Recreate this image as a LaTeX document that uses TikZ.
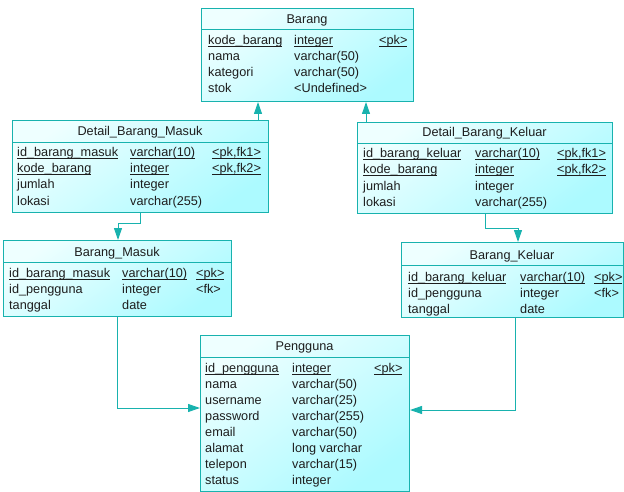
\documentclass[tikz,border=0pt]{standalone}
\usepackage{fontspec}
\setmainfont{Liberation Sans}
\usetikzlibrary{arrows.meta}
\definecolor{tealline}{RGB}{24,178,174}
\definecolor{celltop}{RGB}{238,255,255}
\definecolor{cellbot}{RGB}{172,250,255}
\definecolor{txtgray}{RGB}{30,30,30}
% key fields: rule just under the baseline
\newcommand{\keyul}[1]{{\setbox0\hbox{#1}\rlap{\rule[-2.2pt]{\wd0}{0.7pt}}\box0}}
\tikzset{
  tbl/.style={draw=tealline, line width=1pt, top color=celltop, bottom color=cellbot,
    shading angle=35, anchor=north west, inner sep=0pt},
  hdr/.style={anchor=base, inner sep=0pt, text=txtgray},
  fld/.style={anchor=base west, inner sep=0pt, text=txtgray},
  sep/.style={draw=tealline, line width=1pt},
  fk/.style={draw=tealline, line width=1pt, -{Triangle[length=12pt,width=8pt]}}
}
\begin{document}
\begin{tikzpicture}[x=1pt, y=-1pt, font=\fontsize{12.7pt}{15pt}\selectfont]
  \useasboundingbox (0,0) rectangle (624,492);

  % Barang
  \node[tbl, minimum width=212pt, minimum height=93pt] (barang) at (201,8) {};
  \draw[sep] (barang.west |- 0,30) -- (barang.east |- 0,30);
  \node[hdr] (barang-t) at (307,24) {Barang};
  \foreach \n/\t/\k [count=\i from 0] in {%
      {\keyul{kode\_barang}}/{\keyul{integer}}/{\keyul{<pk>}},
      nama/varchar(50)/{},
      kategori/varchar(50)/{},
      stok/{<Undefined>}/{}}{
    \node[fld] (barang-n\i) at (208,45+16*\i) {\n};
    \node[fld] (barang-y\i) at (294,45+16*\i) {\t};
    \node[fld] (barang-k\i) at (379,45+16*\i) {\k};
  }

  % Detail_Barang_Masuk
  \node[tbl, minimum width=256pt, minimum height=92pt] (dbm) at (12,120) {};
  \draw[sep] (dbm.west |- 0,143) -- (dbm.east |- 0,143);
  \node[hdr] (dbm-t) at (140,136) {Detail\_Barang\_Masuk};
  \foreach \n/\t/\k [count=\i from 0] in {%
      {\keyul{id\_barang\_masuk}}/{\keyul{varchar(10)}}/{\keyul{<pk,fk1>}},
      {\keyul{kode\_barang}}/{\keyul{integer}}/{\keyul{<pk,fk2>}},
      jumlah/integer/{},
      lokasi/varchar(255)/{}}{
    \node[fld] (dbm-n\i) at (17,157+16*\i) {\n};
    \node[fld] (dbm-y\i) at (130,157+16*\i) {\t};
    \node[fld] (dbm-k\i) at (212,157+16*\i) {\k};
  }

  % Detail_Barang_Keluar
  \node[tbl, minimum width=255pt, minimum height=91pt] (dbk) at (357,122) {};
  \draw[sep] (dbk.west |- 0,144) -- (dbk.east |- 0,144);
  \node[hdr] (dbk-t) at (484.5,137) {Detail\_Barang\_Keluar};
  \foreach \n/\t/\k [count=\i from 0] in {%
      {\keyul{id\_barang\_keluar}}/{\keyul{varchar(10)}}/{\keyul{<pk,fk1>}},
      {\keyul{kode\_barang}}/{\keyul{integer}}/{\keyul{<pk,fk2>}},
      jumlah/integer/{},
      lokasi/varchar(255)/{}}{
    \node[fld] (dbk-n\i) at (363,158+16*\i) {\n};
    \node[fld] (dbk-y\i) at (475,158+16*\i) {\t};
    \node[fld] (dbk-k\i) at (557,158+16*\i) {\k};
  }

  % Barang_Masuk
  \node[tbl, minimum width=228pt, minimum height=76pt] (bm) at (3,240) {};
  \draw[sep] (bm.west |- 0,262) -- (bm.east |- 0,262);
  \node[hdr] (bm-t) at (117,256) {Barang\_Masuk};
  \foreach \n/\t/\k [count=\i from 0] in {%
      {\keyul{id\_barang\_masuk}}/{\keyul{varchar(10)}}/{\keyul{<pk>}},
      id\_pengguna/integer/{<fk>},
      tanggal/date/{}}{
    \node[fld] (bm-n\i) at (9,277+16*\i) {\n};
    \node[fld] (bm-y\i) at (122,277+16*\i) {\t};
    \node[fld] (bm-k\i) at (196,277+16*\i) {\k};
  }

  % Barang_Keluar
  \node[tbl, minimum width=222pt, minimum height=75pt] (bk) at (401,242) {};
  \draw[sep] (bk.west |- 0,265) -- (bk.east |- 0,265);
  \node[hdr] (bk-t) at (512,259) {Barang\_Keluar};
  \foreach \n/\t/\k [count=\i from 0] in {%
      {\keyul{id\_barang\_keluar}}/{\keyul{varchar(10)}}/{\keyul{<pk>}},
      id\_pengguna/integer/{<fk>},
      tanggal/date/{}}{
    \node[fld] (bk-n\i) at (408,281+16*\i) {\n};
    \node[fld] (bk-y\i) at (520,281+16*\i) {\t};
    \node[fld] (bk-k\i) at (594,281+16*\i) {\k};
  }

  % Pengguna
  \node[tbl, minimum width=209pt, minimum height=156pt] (pengguna) at (200,335) {};
  \draw[sep] (pengguna.west |- 0,357) -- (pengguna.east |- 0,357);
  \node[hdr] (pengguna-t) at (304.5,350) {Pengguna};
  \foreach \n/\t/\k [count=\i from 0] in {%
      {\keyul{id\_pengguna}}/{\keyul{integer}}/{\keyul{<pk>}},
      nama/varchar(50)/{},
      username/varchar(25)/{},
      password/varchar(255)/{},
      email/varchar(50)/{},
      alamat/long varchar/{},
      telepon/varchar(15)/{},
      status/integer/{}}{
    \node[fld] (pengguna-n\i) at (205,372+16*\i) {\n};
    \node[fld] (pengguna-y\i) at (292,372+16*\i) {\t};
    \node[fld] (pengguna-k\i) at (374,372+16*\i) {\k};
  }

  % references
  \draw[fk] (dbm.north -| 258,0) -- (barang.south -| 258,0);
  \draw[fk] (dbk.north -| 366,0) -- (barang.south -| 366,0);
  \draw[fk] (dbm.south -| 140,0) |- (118,223) -- (bm.north -| 118,0);
  \draw[fk] (dbk.south -| 485,0) |- (518,228) -- (bk.north -| 518,0);
  \draw[fk] (bm.south -| 117,0) |- (pengguna.west |- 0,408);
  \draw[fk] (bk.south -| 515,0) |- (pengguna.east |- 0,410);
\end{tikzpicture}
\end{document}
